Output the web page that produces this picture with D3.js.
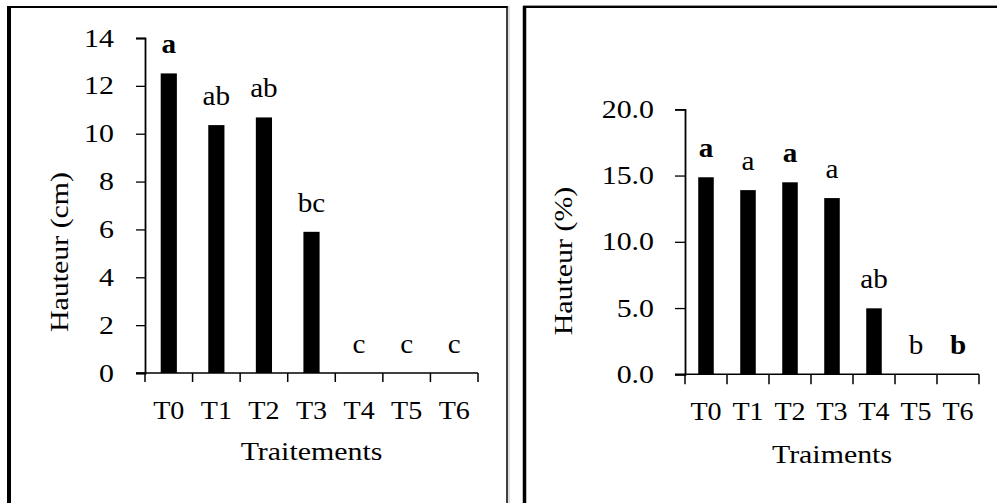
<!DOCTYPE html>
<html><head><meta charset="utf-8">
<script src="https://cdn.jsdelivr.net/npm/d3@7"></script>
<style>body{margin:0;background:#fff}svg{display:block}</style>
</head><body><svg id="c" width="997" height="503"></svg>
<script>
const categories = ["T0","T1","T2","T3","T4","T5","T6"];
const heightCm = [12.52, 10.36, 10.68, 5.9, 0, 0, 0];
const lettersCm = ["a","ab","ab","bc","c","c","c"];
const boldCm = [true,false,false,false,false,false,false];
const ticksCm = [0,2,4,6,8,10,12,14];
const heightPct = [14.87, 13.9, 14.49, 13.3, 4.98, 0, 0];
const lettersPct = ["a","a","a","a","ab","b","b"];
const boldPct = [true,false,true,false,false,false,true];
const ticksPct = [0,5,10,15,20];

const FONT = "'Liberation Serif', 'DejaVu Serif', 'Times New Roman', Times, serif";
const svg = d3.select("#c").attr("font-family", FONT);
const SX = 1.15;

// panel frames
svg.append("line").attr("x1",9).attr("x2",9).attr("y1",6).attr("y2",510).attr("stroke","#000").attr("stroke-width",4);
svg.append("line").attr("x1",7).attr("x2",507.5).attr("y1",7).attr("y2",7).attr("stroke","#000").attr("stroke-width",2);
svg.append("line").attr("x1",507).attr("x2",507).attr("y1",6).attr("y2",510).attr("stroke","#000").attr("stroke-width",1.5);
svg.append("line").attr("x1",509).attr("x2",509).attr("y1",6).attr("y2",510).attr("stroke","#bbb").attr("stroke-width",1);
svg.append("line").attr("x1",524.5).attr("x2",524.5).attr("y1",6).attr("y2",510).attr("stroke","#000").attr("stroke-width",3.5);
svg.append("line").attr("x1",523).attr("x2",1000).attr("y1",7).attr("y2",7).attr("stroke","#000").attr("stroke-width",2);
svg.append("line").attr("x1",523).attr("x2",1000).attr("y1",5.5).attr("y2",5.5).attr("stroke","#999").attr("stroke-width",1);

function panel(o){
  const x = d3.scaleBand().domain(categories).range([o.x0,o.x1]).paddingInner(o.pad).paddingOuter(o.pad/2);
  const y = d3.scaleLinear().domain(o.domain).range([o.y0,o.y1]);
  const g = svg.append("g");
  g.selectAll("rect.bar").data(o.values).enter().append("rect")
    .attr("x",(d,i)=>x(categories[i])).attr("width",x.bandwidth())
    .attr("y",d=>y(d)).attr("height",d=>y(0)-y(d)).attr("fill","#000");
  const ya = d3.axisLeft(y).tickValues(o.ticks).tickSize(o.tick).tickFormat("");
  const yg = g.append("g").attr("transform",`translate(${o.x0},0)`).call(ya);
  yg.select(".domain").attr("stroke-width",1.8);
  yg.selectAll(".tick line").attr("stroke-width",1.3);
  g.selectAll("text.yt").data(o.ticks).enter().append("text")
    .attr("font-family",FONT).attr("text-anchor","end").attr("font-size",o.tickFont)
    .attr("transform",d=>`translate(${o.yLabelRight},${y(d)+o.tickFont*0.33}) scale(${SX},1)`)
    .text(d=>o.fmt(d));
  const step = x.step();
  const xt = d3.range(categories.length+1).map(i=>o.x0+i*step);
  g.append("line").attr("x1",o.x0-o.tick).attr("x2",o.x1).attr("y1",y(0)).attr("y2",y(0)).attr("stroke","#000").attr("stroke-width",1.5);
  g.selectAll("line.xt").data(xt).enter().append("line")
    .attr("x1",d=>d).attr("x2",d=>d).attr("y1",y(0)).attr("y2",y(0)+o.tick).attr("stroke","#000").attr("stroke-width",1.5);
  g.selectAll("text.xl").data(categories).enter().append("text")
    .attr("font-family",FONT).attr("text-anchor","middle").attr("font-size",o.tickFont)
    .attr("transform",d=>`translate(${x(d)+x.bandwidth()/2},${o.xLabelBase}) scale(${o.xsx},1)`)
    .text(d=>d);
  g.selectAll("text.lt").data(o.values).enter().append("text")
    .attr("font-family",FONT).attr("text-anchor","middle").attr("font-size",o.letFont)
    .attr("font-weight",(d,i)=>o.bold[i]?"bold":"normal")
    .attr("transform",(d,i)=>`translate(${x(categories[i])+x.bandwidth()/2},${y(d)-20}) scale(1.08,1)`)
    .text((d,i)=>o.letters[i]);
  g.append("text").attr("font-family",FONT).attr("text-anchor","middle").attr("font-size",o.titleFont)
    .attr("transform",`translate(${(o.x0+o.x1)/2},${o.xTitleBase}) scale(${SX},1)`).text(o.xTitle);
  g.append("text").attr("font-family",FONT).attr("text-anchor","middle").attr("font-size",o.titleFont)
    .attr("transform",`translate(${o.yTitleX},${o.yTitleY}) rotate(-90) scale(${SX},1)`).text(o.yTitle);
}

panel({x0:145,x1:478,y0:373,y1:38,domain:[0,14],pad:0.66,values:heightCm,letters:lettersCm,bold:boldCm,
  ticks:ticksCm,fmt:d3.format("d"),tick:9,tickFont:26,yLabelRight:114,xLabelBase:419,xsx:1.08,letFont:27,
  titleFont:26,xTitle:"Traitements",xTitleBase:460,yTitle:"Hauteur (cm)",yTitleX:68,yTitleY:252});
panel({x0:685,x1:979,y0:374.3,y1:109.3,domain:[0,20],pad:0.63,values:heightPct,letters:lettersPct,bold:boldPct,
  ticks:ticksPct,fmt:d3.format(".1f"),tick:10,tickFont:26,yLabelRight:654,xLabelBase:420,xsx:1.08,letFont:27,
  titleFont:26,xTitle:"Traiments",xTitleBase:463,yTitle:"Hauteur (%)",yTitleX:572,yTitleY:261});
</script></body></html>
